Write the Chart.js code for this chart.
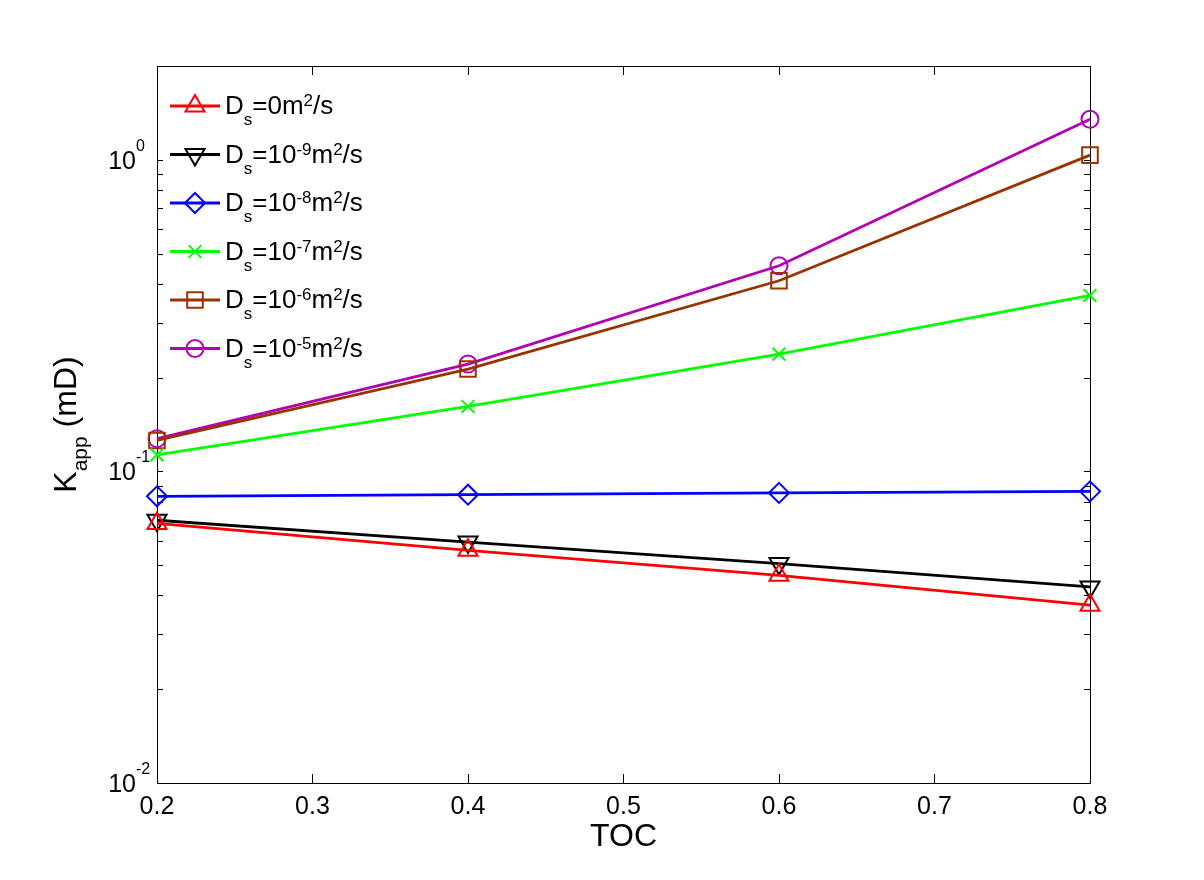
<!DOCTYPE html>
<html>
<head>
<meta charset="utf-8">
<script src="https://cdn.jsdelivr.net/npm/chart.js@4.4.0/dist/chart.umd.min.js"></script>
<style>
  html, body { margin: 0; padding: 0; background: #fff; }
  #wrap { width: 1204px; height: 880px; position: relative; }
</style>
</head>
<body>
<div id="wrap"><canvas id="chart"></canvas></div>
<script>
// TOC values on the x axis
const toc = [0.2, 0.4, 0.6, 0.8];

// apparent permeability K_app (mD), one array per surface diffusion coefficient
const kDs0 = [0.0681, 0.0558, 0.0464, 0.0372];
const kDs9 = [0.0697, 0.0593, 0.0506, 0.0426];
const kDs8 = [0.0832, 0.0842, 0.0853, 0.0863];
const kDs7 = [0.113, 0.1616, 0.238, 0.367];
const kDs6 = [0.1257, 0.213, 0.409, 1.035];
const kDs5 = [0.1274, 0.221, 0.457, 1.35];

// legend labels (_ = subscript, ^ = superscript)
const seriesLabels = [
  "D_s=0m^2/s",
  "D_s=10^{-9}m^2/s",
  "D_s=10^{-8}m^2/s",
  "D_s=10^{-7}m^2/s",
  "D_s=10^{-6}m^2/s",
  "D_s=10^{-5}m^2/s",
];

const xTicks = [0.2, 0.3, 0.4, 0.5, 0.6, 0.7, 0.8];
const yMajorTicks = [0.01, 0.1, 1];
const yTickLabels = ["10^{-2}", "10^{-1}", "10^{0}"];
const yMin = 0.01;
const yMax = 2;
const xTitle = "TOC";
const yTitle = "K_{app} (mD)";

const FONT = '"Liberation Sans", Arial, Helvetica, sans-serif';

const styles = [
  { color: "#FF0000", pointStyle: "triangle", radius: 11, rotation: 0 },
  { color: "#000000", pointStyle: "triangle", radius: 11, rotation: 180 },
  { color: "#0000FF", pointStyle: "rectRot", radius: 10, rotation: 0 },
  { color: "#00FF00", pointStyle: "crossRot", radius: 9, rotation: 0 },
  { color: "#993300", pointStyle: "rect", radius: 11, rotation: 0 },
  { color: "#B300B3", pointStyle: "circle", radius: 8.5, rotation: 0 },
];

const allSeries = [kDs0, kDs9, kDs8, kDs7, kDs6, kDs5];

// minor ticks for the log axis: 2..9 in every decade
const yMinorTicks = [];
yMajorTicks.forEach((d) => {
  for (let m = 2; m <= 9; m++) {
    if (d * m <= yMax) yMinorTicks.push(d * m);
  }
});

// split "D_s=10^{-9}" into normal / sub / sup pieces
function parseRich(str) {
  const segs = [];
  let buf = "";
  let i = 0;
  while (i < str.length) {
    const c = str[i];
    if (c === "_" || c === "^") {
      if (buf) {
        segs.push({ t: buf, k: "n" });
        buf = "";
      }
      let t;
      if (str[i + 1] === "{") {
        const j = str.indexOf("}", i);
        t = str.slice(i + 2, j);
        i = j + 1;
      } else {
        t = str[i + 1];
        i += 2;
      }
      segs.push({ t, k: c === "_" ? "sub" : "sup" });
    } else {
      buf += c;
      i++;
    }
  }
  if (buf) segs.push({ t: buf, k: "n" });
  return segs;
}

function richWidth(ctx, segs, st) {
  let w = 0;
  segs.forEach((s) => {
    ctx.font = (s.k === "n" ? st.size : st.small) + "px " + FONT;
    s.w = ctx.measureText(s.t).width;
    w += s.w;
  });
  return w;
}

function drawRich(ctx, segs, x, y, st) {
  let cx = x;
  ctx.textAlign = "left";
  ctx.textBaseline = "alphabetic";
  segs.forEach((s) => {
    ctx.font = (s.k === "n" ? st.size : st.small) + "px " + FONT;
    const dy = s.k === "sub" ? st.sub : s.k === "sup" ? -st.sup : 0;
    ctx.fillText(s.t, cx, y + dy);
    cx += s.w;
  });
}

const decor = {
  id: "decor",
  beforeDatasetsDraw(chart) {
    const { ctx, chartArea: a } = chart;
    const xs = chart.scales.x;
    const ys = chart.scales.y;
    ctx.save();
    ctx.strokeStyle = "#000";
    ctx.lineWidth = 1;
    ctx.beginPath();
    // inward ticks on bottom and top
    xTicks.forEach((v) => {
      const px = Math.round(xs.getPixelForValue(v)) + 0.5;
      ctx.moveTo(px, a.bottom);
      ctx.lineTo(px, a.bottom - 9);
      ctx.moveTo(px, a.top);
      ctx.lineTo(px, a.top + 9);
    });
    // inward ticks on left and right
    yMajorTicks.concat(yMinorTicks).forEach((v) => {
      const py = Math.round(ys.getPixelForValue(v)) + 0.5;
      ctx.moveTo(a.left, py);
      ctx.lineTo(a.left + 6, py);
      ctx.moveTo(a.right, py);
      ctx.lineTo(a.right - 6, py);
    });
    ctx.stroke();
    ctx.strokeRect(
      Math.round(a.left) + 0.5,
      Math.round(a.top) + 0.5,
      Math.round(a.right - a.left),
      Math.round(a.bottom - a.top)
    );
    ctx.restore();
  },
  afterDraw(chart) {
    const { ctx, chartArea: a } = chart;
    const ys = chart.scales.y;
    ctx.save();
    ctx.fillStyle = "#000";

    // y tick labels 10^n
    const tickSt = { size: 25, small: 16, sub: 0, sup: 18 };
    yMajorTicks.forEach((v, i) => {
      const segs = parseRich(yTickLabels[i]);
      richWidth(ctx, segs, tickSt);
      const mainW = segs.filter((s) => s.k === "n").reduce((t, s) => t + s.w, 0);
      const py = ys.getPixelForValue(v);
      drawRich(ctx, segs, a.left - 21 - mainW, py + 9, tickSt);
    });

    // y axis title, rotated
    const titleSt = { size: 32, small: 21, sub: 11, sup: 0 };
    const tsegs = parseRich(yTitle);
    const tw = richWidth(ctx, tsegs, titleSt);
    ctx.save();
    ctx.translate(76, (a.top + a.bottom) / 2);
    ctx.rotate(-Math.PI / 2);
    drawRich(ctx, tsegs, -tw / 2, 0, titleSt);
    ctx.restore();

    // legend, no box, inside top left corner
    const legSt = { size: 26, small: 17, sub: 11, sup: 8 };
    chart.data.datasets.forEach((ds, i) => {
      const st = styles[i];
      const ly = 106 + i * 48.5;
      ctx.strokeStyle = st.color;
      ctx.lineWidth = 2.8;
      ctx.beginPath();
      ctx.moveTo(a.left + 13, ly);
      ctx.lineTo(a.left + 63, ly);
      ctx.stroke();
      ctx.lineWidth = 2;
      ctx.fillStyle = "rgba(0,0,0,0)";
      Chart.helpers.drawPoint(
        ctx,
        {
          pointStyle: st.pointStyle,
          radius: st.radius,
          rotation: st.rotation,
          borderWidth: 2,
        },
        a.left + 38,
        ly
      );
      ctx.fillStyle = "#000";
      const segs = parseRich(seriesLabels[i]);
      richWidth(ctx, segs, legSt);
      drawRich(ctx, segs, a.left + 68, ly + 8, legSt);
    });
    ctx.restore();
  },
};

const datasets = allSeries.map((vals, i) => ({
  label: seriesLabels[i],
  data: toc.map((x, j) => ({ x, y: vals[j] })),
  borderColor: styles[i].color,
  backgroundColor: "rgba(0,0,0,0)",
  borderWidth: 2.8,
  pointStyle: styles[i].pointStyle,
  pointRadius: styles[i].radius,
  pointRotation: styles[i].rotation,
  pointBorderWidth: 2,
  pointBorderColor: styles[i].color,
  pointBackgroundColor: "rgba(0,0,0,0)",
  tension: 0,
  clip: false,
}));

Chart.defaults.font.family = FONT;
Chart.defaults.color = "#000";

new Chart(document.getElementById("chart"), {
  type: "line",
  data: { datasets },
  options: {
    responsive: true,
    maintainAspectRatio: false,
    animation: false,
    devicePixelRatio: 1,
    layout: { padding: { left: 157, right: 114, top: 66, bottom: 0 } },
    plugins: { legend: { display: false }, tooltip: { enabled: false } },
    scales: {
      x: {
        type: "linear",
        min: 0.2,
        max: 0.8,
        afterBuildTicks: (scale) => {
          scale.ticks = xTicks.map((v) => ({ value: v }));
        },
        afterFit: (scale) => {
          scale.height = 97;
        },
        ticks: {
          font: { size: 25 },
          color: "#000",
          padding: 1,
          maxRotation: 0,
          autoSkip: false,
          callback: (v) => Number(v).toFixed(1),
        },
        grid: { display: false },
        border: { display: false },
        title: {
          display: true,
          text: xTitle,
          font: { size: 32 },
          color: "#000",
          padding: { top: 0, bottom: 24 },
        },
      },
      y: {
        type: "logarithmic",
        min: yMin,
        max: yMax,
        afterFit: (scale) => {
          scale.width = 0;
        },
        ticks: { display: false },
        grid: { display: false },
        border: { display: false },
      },
    },
  },
  plugins: [decor],
});
</script>
</body>
</html>
